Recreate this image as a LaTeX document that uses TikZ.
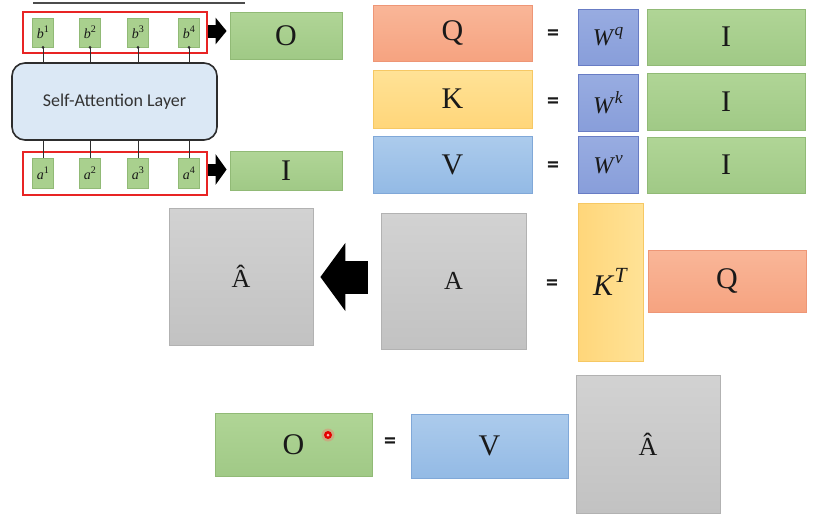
\documentclass[tikz,border=0pt]{standalone}
\usepackage{fontspec}
\setmainfont{Liberation Serif}
\newfontfamily\calfont{Carlito}
\usetikzlibrary{arrows.meta}
\definecolor{grn}{RGB}{169,208,142}
\definecolor{grnT}{RGB}{176,213,150}
\definecolor{grnB}{RGB}{160,201,134}
\definecolor{grnd}{RGB}{145,186,118}
\definecolor{salT}{RGB}{249,182,152}
\definecolor{salB}{RGB}{246,163,128}
\definecolor{sald}{RGB}{238,150,118}
\definecolor{yelT}{RGB}{255,226,150}
\definecolor{yelB}{RGB}{255,214,122}
\definecolor{yeld}{RGB}{246,200,100}
\definecolor{bluT}{RGB}{172,203,236}
\definecolor{bluB}{RGB}{147,186,229}
\definecolor{blud}{RGB}{128,168,216}
\definecolor{wT}{RGB}{152,172,225}
\definecolor{wB}{RGB}{136,158,218}
\definecolor{wd}{RGB}{104,124,196}
\definecolor{gryT}{RGB}{210,210,210}
\definecolor{gryB}{RGB}{194,194,194}
\definecolor{gryd}{RGB}{178,178,178}
\definecolor{layerfill}{RGB}{219,232,245}
\definecolor{layerline}{RGB}{45,45,45}
\definecolor{redline}{RGB}{232,36,36}
\definecolor{txt}{RGB}{25,25,25}
\newcommand\supit[2]{\textit{#1}\raisebox{0.42em}{\scalebox{0.72}{\textit{#2}}}}
\newcommand\supup[2]{\textit{#1}\raisebox{0.42em}{\scalebox{0.72}{#2}}}
\begin{document}
\begin{tikzpicture}[x=1pt,y=-1pt,
  big/.style={font=\fontsize{30}{34}\selectfont, text=txt},
  box/.style={draw, inner sep=0pt, line width=0.8pt},
  gbox/.style={box, top color=grnT, bottom color=grnB, draw=grnd},
  qbox/.style={box, top color=salT, bottom color=salB, draw=sald},
  kbox/.style={box, top color=yelT, bottom color=yelB, draw=yeld},
  vbox/.style={box, top color=bluT, bottom color=bluB, draw=blud},
  wbox/.style={box, top color=wT, bottom color=wB, draw=wd, font=\fontsize{24}{28}\selectfont, text=txt},
  abox/.style={box, top color=gryT, bottom color=gryB, draw=gryd, font=\fontsize{26}{30}\selectfont, text=txt},
  sbox/.style={box, fill=grn, draw=grnd, line width=0.5pt, minimum width=21pt, minimum height=29pt, font=\fontsize{14}{16}\selectfont, text=txt},
  redbox/.style={draw=redline, line width=2.6pt, inner sep=0pt},
  eqsign/.style={font=\calfont\bfseries\fontsize{24}{28}\selectfont, text=txt, inner sep=0pt},
  conn/.style={draw=layerline, line width=0.9pt},
  blockarrow/.style={draw=black}
]
\useasboundingbox (0,0) rectangle (816,523);
\fill[white] (0,0) rectangle (816,523);

% partial title underline
\draw[draw=black!70, line width=1.8pt] (33,3) -- (245,3);

% ---------- left: self-attention layer ----------
\node[redbox, minimum width=184pt, minimum height=41pt] (rb) at (115,32.5) {};
\node[redbox, minimum width=184pt, minimum height=43pt] (ra) at (115,173.5) {};

\node[sbox] (b1) at (43,32.5) {\supup{b}{1}};
\node[sbox] (b2) at (90,32.5) {\supup{b}{2}};
\node[sbox] (b3) at (138,32.5) {\supup{b}{3}};
\node[sbox] (b4) at (189,32.5) {\supup{b}{4}};

\node[sbox, minimum height=30pt] (a1) at (43,173) {\supup{a}{1}};
\node[sbox, minimum height=30pt] (a2) at (90,173) {\supup{a}{2}};
\node[sbox, minimum height=30pt] (a3) at (138,173) {\supup{a}{3}};
\node[sbox, minimum height=30pt] (a4) at (189,173) {\supup{a}{4}};

\node[draw=layerline, fill=layerfill, line width=1.6pt, rounded corners=13pt,
      minimum width=205pt, minimum height=77pt, inner sep=0pt,
      font=\calfont\fontsize{18}{21}\selectfont, text=black!80] (L) at (114.5,101.5) {Self-Attention Layer};

\foreach \n in {b1,b2,b3,b4}{
  \draw[conn] (L.north -| \n) -- (\n.south);
  \fill[layerline] (\n.south) circle (1.5);
}
\foreach \n in {a1,a2,a3,a4}{
  \draw[conn] (\n.north) -- (\n.north |- L.south);
}

\node[gbox, big, minimum width=112pt, minimum height=47pt] (O1) at (286,35.5) {O};
\node[gbox, big, minimum width=112pt, minimum height=39pt] (I1) at (286,171) {I};

\draw[blockarrow, line width=13pt, -{Triangle[length=11pt,width=26pt]}, shorten >=3pt]
  ([yshift=1.5pt]rb.east) -- ([yshift=1.5pt]rb.east -| O1.west);
\draw[blockarrow, line width=12pt, -{Triangle[length=11pt,width=30pt]}, shorten >=3pt]
  ([yshift=4pt]ra.east) -- ([yshift=4pt]ra.east -| I1.west);

% ---------- right: Q K V ----------
\node[qbox, big, minimum width=159pt, minimum height=56pt] (Q1) at (452.5,33) {Q};
\node[eqsign] (e1) at (553,35) {=};
\node[wbox, minimum width=60pt, minimum height=56pt] (Wq) at (608,37) {\supit{W}{q}};
\node[gbox, big, minimum width=158pt, minimum height=56pt] (Iq) at (726,37) {I};

\node[kbox, big, minimum width=159pt, minimum height=58pt] (K1) at (452.5,99) {K};
\node[eqsign] (e2) at (553,103) {=};
\node[wbox, minimum width=60pt, minimum height=57pt] (Wk) at (608,102.5) {\supit{W}{k}};
\node[gbox, big, minimum width=158pt, minimum height=57pt] (Ik) at (726,101.5) {I};

\node[vbox, big, minimum width=159pt, minimum height=57pt] (V1) at (452.5,164.5) {V};
\node[eqsign] (e3) at (553,167) {=};
\node[wbox, minimum width=60pt, minimum height=57pt] (Wv) at (608,164.5) {\supit{W}{v}};
\node[gbox, big, minimum width=158pt, minimum height=56pt] (Iv) at (726,165) {I};

% ---------- middle: A ----------
\node[abox, minimum width=144pt, minimum height=137pt] (Ah1) at (241,276.5) {Â};
\node[abox, minimum width=145pt, minimum height=136pt] (A) at (453.5,281) {A};
\node[eqsign] (e4) at (552,285) {=};
\node[box, left color=yelB, right color=yelT, draw=yeld, minimum width=65pt, minimum height=158pt,
      font=\fontsize{30}{34}\selectfont, text=txt] (KT) at (610.5,282) {\supit{K}{T}};
\node[qbox, big, minimum width=158pt, minimum height=62pt] (Q2) at (727,281) {Q};

\draw[blockarrow, line width=33pt, -{Triangle[length=25pt,width=67pt]}, shorten <=13pt, shorten >=7pt]
  ([yshift=4pt]A.west) -- ([yshift=4pt]A.west -| Ah1.east);

% ---------- bottom: O = V A ----------
\node[gbox, big, minimum width=157pt, minimum height=63pt] (O2) at (293.5,444.5) {O};
\node[eqsign] (e5) at (390,443) {=};
\node[vbox, big, minimum width=157pt, minimum height=64pt] (V2) at (489.5,446) {V};
\node[abox, minimum width=144pt, minimum height=138pt] (Ah2) at (648,444) {Â};

% laser pointer dot
\node[circle, fill=red!60, opacity=0.35, minimum size=13pt, inner sep=0pt] (laserglow) at (328,435) {};
\node[circle, fill=red!90!black, minimum size=8pt, inner sep=0pt] (laser) at (328,435) {};
\node[circle, fill=white!70!red, minimum size=3pt, inner sep=0pt] (lasercore) at (328,435) {};
\end{tikzpicture}
\end{document}
